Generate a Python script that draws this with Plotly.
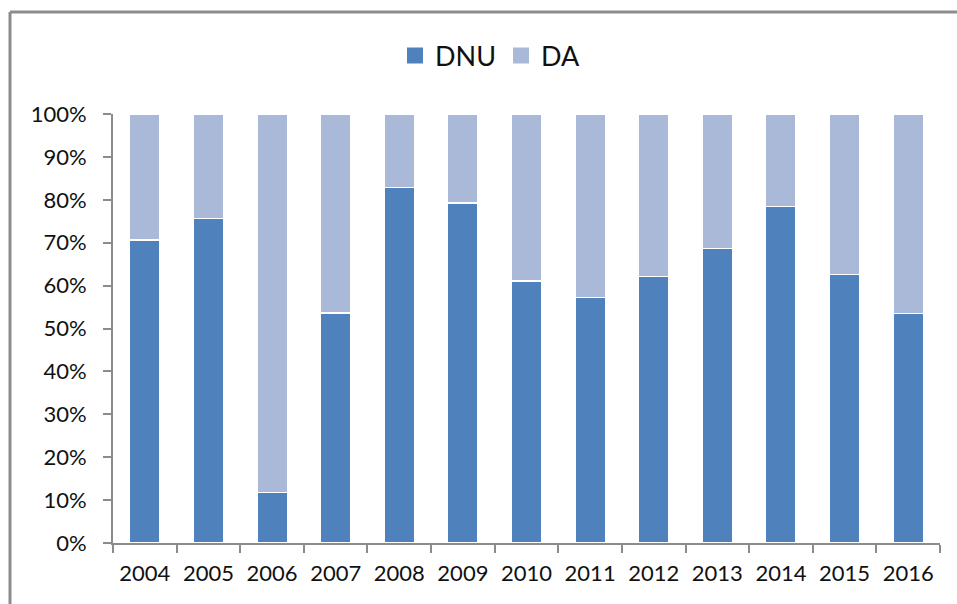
import plotly.graph_objects as go

years = ["2004", "2005", "2006", "2007", "2008", "2009", "2010",
         "2011", "2012", "2013", "2014", "2015", "2016"]
dnu = [70.6, 75.6, 11.8, 53.6, 82.9, 79.3, 61.1, 57.2, 62.1, 68.6, 78.4, 62.6, 53.5]
da = [round(100 - v, 1) for v in dnu]

W, H = 957, 604
L, R, T, B = 113, 17, 114, 61
pw, ph = W - L - R, H - T - B

def px(x):
    return (x - L) / pw

def py(y):
    return (H - B - y) / ph

C_DNU, C_DA = "#4F81BD", "#AAB9D7"

fig = go.Figure()
fig.add_trace(go.Bar(x=years, y=[v / 100 for v in dnu], name="DNU", showlegend=False,
                     marker=dict(color=C_DNU, line=dict(color="white", width=1.5))))
fig.add_trace(go.Bar(x=years, y=[v / 100 for v in da], name="DA", showlegend=False,
                     marker=dict(color=C_DA, line=dict(color="white", width=1.5))))
for nm, c in (("DNU", C_DNU), ("DA", C_DA)):
    fig.add_trace(go.Scatter(x=[None], y=[None], mode="markers", name=nm,
                             marker=dict(symbol="square", size=16, color=c)))

font = "Lato, 'Open Sans', sans-serif"
fig.update_layout(
    width=W, height=H,
    barmode="stack", bargap=0.52,
    margin=dict(l=L, r=R, t=T, b=B),
    paper_bgcolor="white", plot_bgcolor="white",
    font=dict(family=font, size=22, color="#111111"),
    legend=dict(orientation="h", x=0.5 - 36 / pw, xanchor="center", y=py(56), yanchor="middle",
                font=dict(size=27), itemwidth=30, traceorder="normal"),
    xaxis=dict(showline=True, linecolor="#8c8c8c", linewidth=2, ticks="outside",
               tickson="boundaries", ticklen=8, tickcolor="#8c8c8c", tickwidth=2,
               showgrid=False, tickfont=dict(size=22), ticklabelstandoff=10),
    yaxis=dict(range=[0, 1], dtick=0.1, tickformat=".0%", showline=True,
               linecolor="#8c8c8c", linewidth=2, ticks="outside", ticklen=8,
               tickcolor="#8c8c8c", tickwidth=2, showgrid=False, zeroline=False,
               tickfont=dict(size=22), ticklabelstandoff=12),
    shapes=[
        dict(type="line", xref="paper", yref="paper", x0=px(10), x1=px(957),
             y0=py(12), y1=py(12), line=dict(color="#8c8c8c", width=3)),
        dict(type="line", xref="paper", yref="paper", x0=px(10), x1=px(10),
             y0=py(12), y1=py(604), line=dict(color="#8c8c8c", width=3)),
    ],
)

fig.write_html("out.html", config={"displayModeBar": False},
               post_script="document.body.style.margin='0';")
